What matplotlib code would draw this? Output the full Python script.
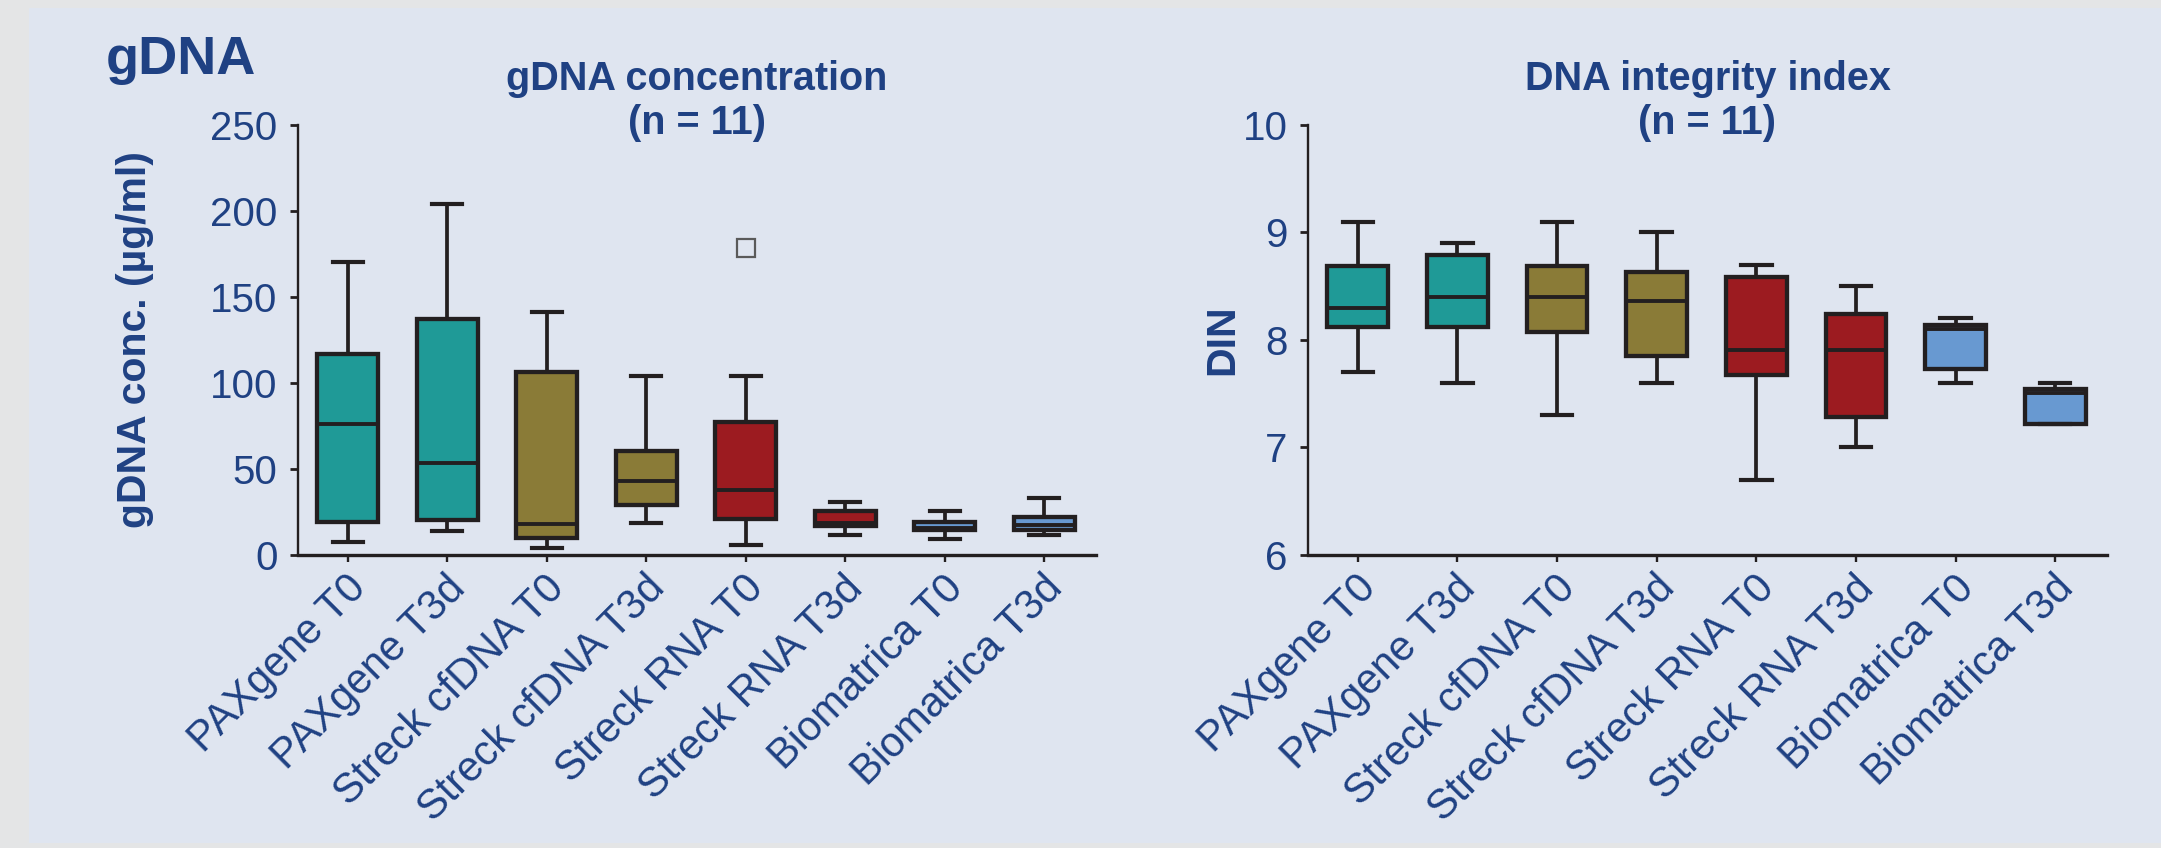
import matplotlib
matplotlib.use('Agg')
import matplotlib.pyplot as plt
from matplotlib.patches import Rectangle
from matplotlib.transforms import ScaledTranslation

plt.rcParams['font.family'] = ['Liberation Sans', 'DejaVu Sans']

# categories
muestras = ['PAXgene T0', 'PAXgene T3d', 'Streck cfDNA T0', 'Streck cfDNA T3d',
            'Streck RNA T0', 'Streck RNA T3d', 'Biomatrica T0', 'Biomatrica T3d']
colores = ['#1f9a97', '#1f9a97', '#8a7b37', '#8a7b37',
           '#9c1b20', '#9c1b20', '#6899d1', '#6899d1']

# gDNA concentration (ug/ml), box statistics
conc_min = [7.7, 14.0, 4.1, 18.5, 6.0, 11.6, 9.3, 11.4]
conc_q1 = [18.9, 20.4, 10.1, 29.2, 20.9, 16.6, 14.5, 14.5]
conc_med = [76.3, 53.7, 18.1, 43.0, 38.0, 18.6, 15.7, 17.4]
conc_q3 = [116.7, 136.9, 106.6, 60.6, 77.4, 25.6, 19.3, 21.9]
conc_max = [170.3, 204.2, 141.2, 104.0, 104.0, 30.6, 25.7, 33.3]
conc_outliers = [[], [], [], [], [178.4], [], [], []]

# DNA integrity index
din_min = [7.70, 7.60, 7.30, 7.60, 6.70, 7.00, 7.60, 7.22]
din_q1 = [8.12, 8.12, 8.07, 7.85, 7.67, 7.28, 7.73, 7.22]
din_med = [8.30, 8.40, 8.40, 8.36, 7.91, 7.91, 8.10, 7.51]
din_q3 = [8.69, 8.79, 8.69, 8.63, 8.58, 8.24, 8.14, 7.54]
din_max = [9.10, 8.90, 9.10, 9.00, 8.70, 8.50, 8.20, 7.60]
din_outliers = [[], [], [], [], [], [], [], []]

azul = '#1f4183'
borde = '#231f20'


def estadisticas(mins, q1s, meds, q3s, maxs, outs):
    stats = []
    for i in range(len(mins)):
        stats.append({'whislo': mins[i], 'q1': q1s[i], 'med': meds[i],
                      'q3': q3s[i], 'whishi': maxs[i], 'fliers': outs[i]})
    return stats


def dibujar(ax, stats, ylim, yticks, ylabel, titulo, label_x):
    b = ax.bxp(stats, positions=range(len(stats)), widths=0.61, patch_artist=True,
               boxprops=dict(edgecolor=borde, linewidth=3.1),
               medianprops=dict(color=borde, linewidth=2.8),
               whiskerprops=dict(color=borde, linewidth=2.7),
               capprops=dict(color=borde, linewidth=3.0),
               flierprops=dict(marker='s', markersize=13, markerfacecolor='none',
                               markeredgecolor='#5a5a5a', markeredgewidth=1.6))
    for caja, c in zip(b['boxes'], colores):
        caja.set_facecolor(c)
    ax.set_facecolor('none')
    ax.set_xlim(-0.5, 7.52)
    ax.set_ylim(*ylim)
    ax.set_yticks(yticks)
    ax.set_yticklabels([str(t) for t in yticks])
    ax.spines['top'].set_visible(False)
    ax.spines['right'].set_visible(False)
    ax.spines['left'].set_linewidth(1.7)
    ax.spines['bottom'].set_linewidth(2.4)
    ax.spines['left'].set_color(borde)
    ax.spines['bottom'].set_color(borde)
    ax.tick_params(axis='y', length=5.8, width=2.0, color=borde, labelsize=29,
                   labelcolor=azul, pad=9)
    ax.tick_params(axis='x', length=5.0, width=1.7, color=borde, labelsize=30,
                   labelcolor=azul, pad=6)
    ax.set_xticks(range(len(muestras)))
    ax.set_xticklabels(muestras, rotation=45, ha='right', va='center',
                       rotation_mode='anchor')
    desplazar = ScaledTranslation(0.12, -0.12, fig.dpi_scale_trans)
    for lab in ax.get_xticklabels():
        lab.set_transform(lab.get_transform() + desplazar)
    ax.set_ylabel(ylabel, fontsize=29.5, fontweight='bold', color=azul)
    ax.yaxis.set_label_coords(label_x, 0.5)
    ax.text(0.5, 1.081, titulo[0], transform=ax.transAxes, ha='center', va='baseline',
            fontsize=28.5, fontweight='bold', color=azul)
    ax.text(0.5, 0.978, titulo[1], transform=ax.transAxes, ha='center', va='baseline',
            fontsize=28.5, fontweight='bold', color=azul)


fig = plt.figure(figsize=(21.61, 8.48), dpi=100)
fig.patch.set_facecolor('#e4e5e6')
fig.patches.append(Rectangle((29 / 2161, 5 / 848), 1, 835 / 848, transform=fig.transFigure,
                             facecolor='#dfe5f0', edgecolor='none', zorder=-10))

ax1 = fig.add_axes([298 / 2161, 1 - 555 / 848, 798 / 2161, 430.3 / 848])
ax2 = fig.add_axes([1308 / 2161, 1 - 555 / 848, 799 / 2161, 430.3 / 848])

dibujar(ax1, estadisticas(conc_min, conc_q1, conc_med, conc_q3, conc_max, conc_outliers),
        (0, 250), [0, 50, 100, 150, 200, 250], 'gDNA conc. (µg/ml)',
        ('gDNA concentration', '(n = 11)'), -0.18)
dibujar(ax2, estadisticas(din_min, din_q1, din_med, din_q3, din_max, din_outliers),
        (6, 10), [6, 7, 8, 9, 10], 'DIN',
        ('DNA integrity index', '(n = 11)'), -0.083)

fig.text(106 / 2161, 1 - 74 / 848, 'gDNA', ha='left', va='baseline', fontsize=39,
         fontweight='bold', color=azul)

fig.savefig('out.png', dpi=100, facecolor=fig.get_facecolor())
